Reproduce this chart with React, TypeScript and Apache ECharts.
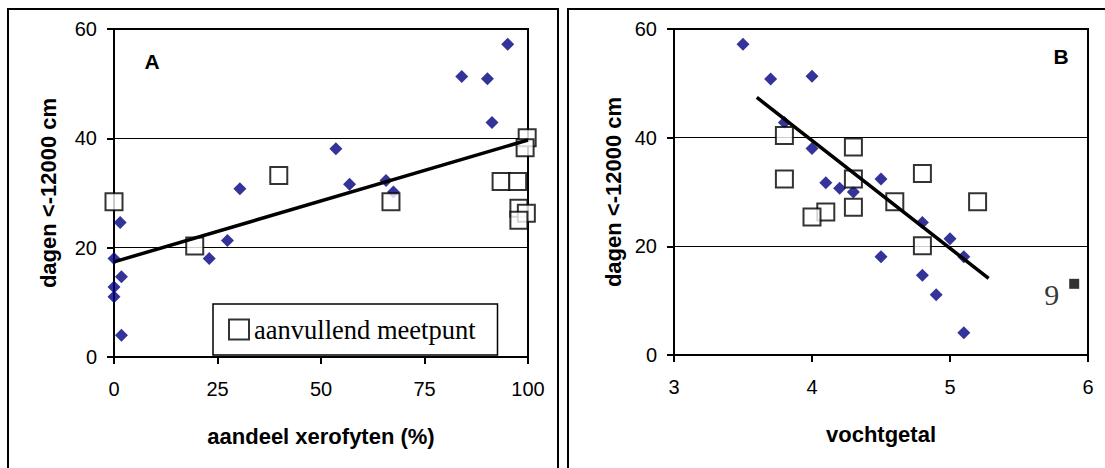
import React, { useEffect, useRef } from "react";
import * as echarts from "echarts";

// Panel A: aandeel xerofyten (%) vs dagen <-12000 cm
const xerofytenMain = [95.1, 84.0, 90.2, 91.3, 53.6, 30.4, 56.9, 65.7, 67.5, 1.5, 27.4, 23.0, 0, 1.8, 0, 0, 1.8];
const dagenMainA = [57.2, 51.3, 50.9, 42.9, 38.1, 30.8, 31.6, 32.3, 30.2, 24.6, 21.3, 18.0, 18.0, 14.7, 12.8, 11.0, 4.0];
const xerofytenExtra = [0, 19.5, 39.8, 66.9, 99.8, 99.3, 93.5, 97.5, 97.8, 99.6, 97.8];
const dagenExtraA = [28.4, 20.3, 33.2, 28.4, 40.1, 38.3, 32.1, 32.1, 27.2, 26.3, 25.0];
const trendAX = [0, 100];
const trendAY = [17.4, 39.7];

// Panel B: vochtgetal vs dagen <-12000 cm
const vochtMain = [3.5, 3.7, 4.0, 3.8, 4.0, 4.1, 4.2, 4.3, 4.5, 4.8, 5.0, 5.1, 4.5, 4.8, 4.9, 5.1];
const dagenMainB = [57.2, 50.8, 51.3, 42.8, 38.0, 31.7, 30.7, 30.0, 32.4, 24.4, 21.4, 18.1, 18.1, 14.7, 11.1, 4.1];
const vochtExtra = [3.8, 3.8, 4.3, 4.3, 4.3, 4.1, 4.0, 4.6, 4.8, 4.8, 5.2];
const dagenExtraB = [40.4, 32.4, 38.3, 32.4, 27.2, 26.3, 25.4, 28.2, 33.4, 20.1, 28.2];
const outlierX = [5.9];
const outlierY = [13.1];
const outlierLabel = "9";
const trendBX = [3.6, 5.28];
const trendBY = [47.4, 14.1];

const legendName = "aanvullend meetpunt";
const yTitle = "dagen <-12000 cm";
const xTitleA = "aandeel xerofyten (%)";
const xTitleB = "vochtgetal";

const zip = (xs: number[], ys: number[]) => xs.map((x, i) => [x, ys[i]]);

const SANS = "'Liberation Sans', Arial, sans-serif";
const SERIF = "'Liberation Serif', 'Times New Roman', serif";
const NAVY = "#000080";

function makeY(gridIndex: number, nameGap: number) {
  return {
    type: "value",
    gridIndex,
    min: 0,
    max: 60,
    interval: 20,
    name: yTitle,
    nameLocation: "middle",
    nameGap,
    nameTextStyle: { fontFamily: SANS, fontSize: 22, fontWeight: "bold", color: "#000" },
    axisLine: { show: true, lineStyle: { color: "#000", width: 2 } },
    axisTick: { show: true, length: 7, lineStyle: { color: "#000", width: 2 } },
    axisLabel: { margin: 17, fontFamily: SANS, fontSize: 20, color: "#000" },
    splitLine: { show: true, lineStyle: { color: "#000", width: 1 } },
  };
}

function makeX(gridIndex: number, min: number, max: number, interval: number, name: string) {
  return {
    type: "value",
    gridIndex,
    min,
    max,
    interval,
    name,
    nameLocation: "middle",
    nameGap: 68,
    nameTextStyle: { fontFamily: SANS, fontSize: 22, fontWeight: "bold", color: "#000" },
    axisLine: { show: true, lineStyle: { color: "#000", width: 2 } },
    axisTick: { show: true, length: 7, lineStyle: { color: "#000", width: 2 } },
    axisLabel: { margin: 22, fontFamily: SANS, fontSize: 20, color: "#000" },
    splitLine: { show: false },
  };
}

const squareStyle = { color: "#fff", borderColor: "#000", borderWidth: 2 };

export default function App() {
  const ref = useRef<HTMLDivElement>(null);
  useEffect(() => {
    if (!ref.current) return;
    const chart = echarts.init(ref.current, undefined, { renderer: "svg" });
    chart.setOption({
      animation: false,
      backgroundColor: "#fff",
      grid: [
        { left: 114, top: 29, width: 414, height: 328, show: true, borderColor: "#000", borderWidth: 2 },
        { left: 674, top: 29, width: 414, height: 326, show: true, borderColor: "#000", borderWidth: 2 },
      ],
      xAxis: [makeX(0, 0, 100, 25, xTitleA), makeX(1, 3, 6, 1, xTitleB)],
      yAxis: [makeY(0, 55), makeY(1, 50)],
      legend: {
        data: [legendName],
        left: 213,
        top: 304,
        orient: "horizontal",
        icon: "rect",
        itemWidth: 20,
        itemHeight: 20,
        itemGap: 5,
        padding: [12, 22, 12, 15],
        borderColor: "#000",
        borderWidth: 1.5,
        backgroundColor: "#fff",
        itemStyle: { color: "#fff", borderColor: "#000", borderWidth: 2 },
        textStyle: { fontFamily: SERIF, fontSize: 26.5, color: "#000" },
        selectedMode: false,
      },
      graphic: [
        { type: "rect", shape: { x: 8, y: 9, width: 550, height: 480 }, style: { fill: "none", stroke: "#000", lineWidth: 2 }, silent: true },
        { type: "rect", shape: { x: 568, y: 9, width: 560, height: 480 }, style: { fill: "none", stroke: "#000", lineWidth: 2 }, silent: true },
        { type: "text", x: 152, y: 61, style: { text: "A", font: `bold 21px ${SANS}`, fill: "#000", align: "center", verticalAlign: "middle" } },
        { type: "text", x: 1061, y: 56, style: { text: "B", font: `bold 21px ${SANS}`, fill: "#000", align: "center", verticalAlign: "middle" } },
      ],
      series: [
        {
          type: "scatter", xAxisIndex: 0, yAxisIndex: 0, symbol: "diamond", symbolSize: 13,
          itemStyle: { color: NAVY }, data: zip(xerofytenMain, dagenMainA), clip: false,
        },
        {
          name: legendName, type: "scatter", xAxisIndex: 0, yAxisIndex: 0, symbol: "rect", symbolSize: 17,
          itemStyle: squareStyle, data: zip(xerofytenExtra, dagenExtraA), clip: false,
        },
        {
          type: "line", xAxisIndex: 0, yAxisIndex: 0, showSymbol: false, symbol: "none",
          lineStyle: { color: "#000", width: 3.5 }, data: zip(trendAX, trendAY),
        },
        {
          type: "scatter", xAxisIndex: 1, yAxisIndex: 1, symbol: "diamond", symbolSize: 13,
          itemStyle: { color: NAVY }, data: zip(vochtMain, dagenMainB), clip: false,
        },
        {
          name: legendName, type: "scatter", xAxisIndex: 1, yAxisIndex: 1, symbol: "rect", symbolSize: 17,
          itemStyle: squareStyle, data: zip(vochtExtra, dagenExtraB), clip: false,
        },
        {
          type: "line", xAxisIndex: 1, yAxisIndex: 1, showSymbol: false, symbol: "none",
          lineStyle: { color: "#000", width: 3.5 }, data: zip(trendBX, trendBY),
        },
        {
          type: "scatter", xAxisIndex: 1, yAxisIndex: 1, symbol: "rect", symbolSize: 10,
          itemStyle: { color: "#000" }, data: zip(outlierX, outlierY),
          label: {
            show: true, position: "left", distance: 10, offset: [0, 11],
            formatter: () => outlierLabel, fontFamily: SERIF, fontSize: 30, color: "#000",
          },
        },
      ],
    });
    return () => chart.dispose();
  }, []);
  return <div ref={ref} style={{ position: "fixed", left: 0, top: 0, width: 1105, height: 468 }} />;
}
